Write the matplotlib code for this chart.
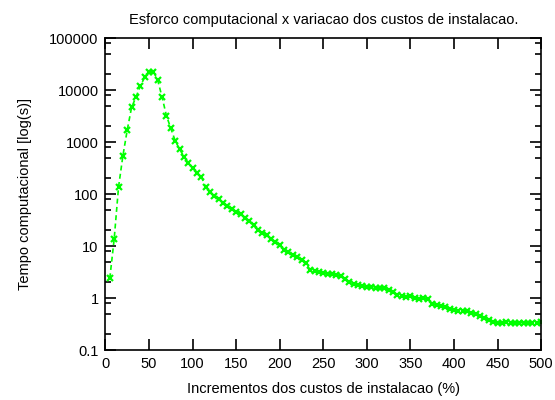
import numpy as np
import matplotlib
matplotlib.use('Agg')
import matplotlib.pyplot as plt
from matplotlib.ticker import FixedLocator, FixedFormatter

# Data
increments = list(range(5, 505, 5))
tempo = [
    2.4, 13.5, 135, 540, 1700, 4650, 7250, 11900, 17500, 21900,
    22500, 15500, 7250, 3200, 1830, 1060, 733, 525, 400, 310,
    250, 215, 135, 110, 92, 80, 68, 60, 52, 45,
    41, 35, 30, 25, 20.5, 18, 16, 13.8, 12, 10.5,
    8.5, 7.5, 6.8, 6.2, 5.5, 4.8, 3.4, 3.25, 3.2, 3.05,
    2.95, 2.9, 2.8, 2.6, 2.3, 2.0, 1.85, 1.75, 1.68, 1.63,
    1.6, 1.58, 1.56, 1.53, 1.45, 1.33, 1.15, 1.08, 1.04, 1.1,
    1.02, 0.96, 0.98, 0.97, 0.78, 0.74, 0.70, 0.66, 0.62, 0.59,
    0.57, 0.56, 0.56, 0.52, 0.49, 0.45, 0.41, 0.38, 0.35, 0.335,
    0.335, 0.34, 0.335, 0.335, 0.335, 0.335, 0.33, 0.335, 0.335, 0.34,
]

x_ticks = list(range(0, 501, 50))
y_ticks = [0.1, 1, 10, 100, 1000, 10000, 100000]
y_tick_labels = ['0.1', '1', '10', '100', '1000', '10000', '100000']

title = 'Esforco computacional x variacao dos custos de instalacao.'
x_label = 'Incrementos dos custos de instalacao (%)'
y_label = 'Tempo computacional [log(s)]'


def main():
    plt.rcParams['font.family'] = ['Liberation Sans', 'DejaVu Sans']
    plt.rcParams['font.size'] = 10.5

    fig = plt.figure(figsize=(5.55, 4.0), dpi=100)
    ax = fig.add_axes([0.190, 0.125, 0.785, 0.780])

    ax.plot(increments, tempo, color='#00ff00', linestyle='--', dashes=(3, 2),
            linewidth=1.2, marker='x', markersize=5, markeredgewidth=1.6)

    ax.set_yscale('log')
    ax.set_xlim(0, 500)
    ax.set_ylim(0.1, 100000)

    ax.xaxis.set_major_locator(FixedLocator(x_ticks))
    ax.set_xticklabels([str(t) for t in x_ticks])
    ax.yaxis.set_major_locator(FixedLocator(y_ticks))
    ax.yaxis.set_major_formatter(FixedFormatter(y_tick_labels))
    minors = [m * 10.0 ** e for e in range(-1, 5) for m in (2, 5, 8)]
    ax.yaxis.set_minor_locator(FixedLocator(minors))
    ax.yaxis.set_minor_formatter(FixedFormatter([''] * len(minors)))
    ax.xaxis.set_minor_locator(FixedLocator([]))

    ax.tick_params(which='both', direction='in', top=True, right=True, width=1.2)
    ax.tick_params(which='major', length=8, pad=5)
    ax.tick_params(which='minor', length=4.3)
    for sp in ax.spines.values():
        sp.set_linewidth(1.2)

    ax.set_title(title, fontsize=10.5, pad=10)
    ax.set_xlabel(x_label, fontsize=10.5, labelpad=8)
    ax.set_ylabel(y_label, fontsize=10.5, labelpad=12)

    fig.savefig('out.png', dpi=100)


if __name__ == '__main__':
    main()
